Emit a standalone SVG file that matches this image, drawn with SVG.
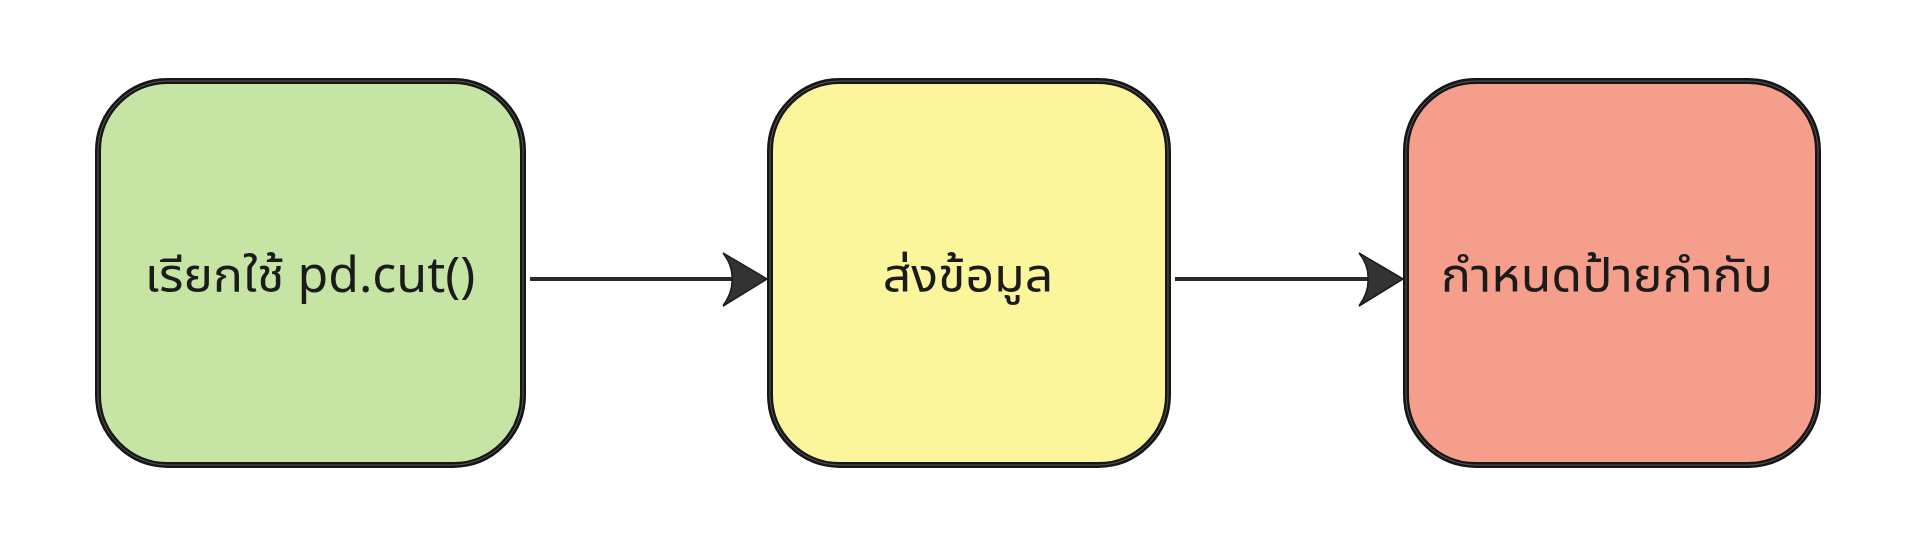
<svg xmlns="http://www.w3.org/2000/svg" width="1912" height="544" viewBox="0 0 1912 544">
<defs>
<style>
.box{stroke:#161616;stroke-width:6}
.inner{fill:none;stroke:#6a6a6a;stroke-width:0.8}
.lbl{font-family:"Noto Sans","Noto Sans Thai UI","Noto Sans Thai","Leelawadee UI","Sarabun","Prompt","Kanit","Loma","Garuda","Waree","Laksaman","Tlwg Typo","Noto Sans CJK SC",sans-serif;font-size:50px;fill:#1b1b1b;text-anchor:middle}
.edge{stroke:#2a2a2a;stroke-width:4;fill:none}
.head{fill:#333333;stroke:#1c1c1c;stroke-width:1.5;stroke-linejoin:miter}
</style>
</defs>
<rect x="0" y="0" width="1912" height="544" fill="#ffffff"/>
<g id="connectors">
<g id="edge1">
<line class="edge" x1="530" y1="279" x2="735" y2="279"/>
<path class="head" d="M767,279 L723,253 Q733,266 732,279 Q733,292 723,306 Z"/>
</g>
<g id="edge2">
<line class="edge" x1="1175" y1="279" x2="1370" y2="279"/>
<path class="head" d="M1403,279 L1359,253 Q1369,266 1368,279 Q1369,292 1359,306 Z"/>
</g>
</g>
<g id="node1">
<rect class="box" x="98" y="81" width="425" height="384" rx="70" ry="70" fill="#c6e5a5"/>
<rect class="inner" x="98" y="81" width="425" height="384" rx="70" ry="70"/>
<text class="lbl" x="310" y="292">เรียกใช้ pd.cut()</text>
</g>
<g id="node2">
<rect class="box" x="770" y="81" width="398" height="384" rx="70" ry="70" fill="#fbf59c"/>
<rect class="inner" x="770" y="81" width="398" height="384" rx="70" ry="70"/>
<text class="lbl" x="968" y="292">ส่งข้อมูล</text>
</g>
<g id="node3">
<rect class="box" x="1406" y="81" width="412" height="384" rx="70" ry="70" fill="#f59e8c"/>
<rect class="inner" x="1406" y="81" width="412" height="384" rx="70" ry="70"/>
<text class="lbl" x="1607" y="292">กำหนดป้ายกำกับ</text>
</g>
</svg>
